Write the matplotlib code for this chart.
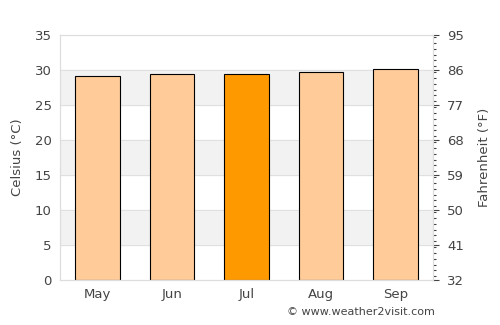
import numpy as np
import matplotlib.pyplot as plt
from matplotlib.ticker import MultipleLocator

months = ['May', 'Jun', 'Jul', 'Aug', 'Sep']
temps_c = [29.2, 29.5, 29.5, 29.8, 30.2]
highlight = 'Jul'

bar_colors = ['#ff9900' if m == highlight else '#ffcc99' for m in months]

fig = plt.figure(figsize=(5, 3.25), dpi=100)
ax = fig.add_axes([0.12, 0.138, 0.746, 0.754])

# alternating bands
for lo in range(5, 35, 10):
    ax.axhspan(lo, lo + 5, color='#f2f2f2', zorder=0)
for y in range(5, 35, 5):
    ax.axhline(y, color='#e0e0e0', lw=0.8, zorder=0.5)

x = np.arange(len(months))
ax.bar(x, temps_c, width=0.6, color=bar_colors, edgecolor='black', linewidth=0.8, zorder=2)

ax.set_xlim(-0.5, 4.5)
ax.set_ylim(0, 35)
ax.set_xticks(x)
ax.set_xticklabels(months)
ax.set_yticks(range(0, 36, 5))
ax.set_ylabel('Celsius (°C)', color='#444444', fontsize=9.5, labelpad=8)
ax.tick_params(axis='both', colors='#444444', labelsize=9.5, length=0, pad=6)
for s in ax.spines.values():
    s.set_color('#dddddd')

ax2 = ax.twinx()
ax2.set_ylim(32, 95)
ax2.set_yticks(range(32, 96, 9))
ax2.yaxis.set_minor_locator(MultipleLocator(1.5))
ax2.tick_params(axis='y', which='major', colors='#444444', labelsize=9.5, length=4, width=0.8, pad=6)
ax2.tick_params(axis='y', which='minor', length=2.5, width=0.8, colors='#444444')
ax2.set_ylabel('Fahrenheit (°F)', color='#444444', fontsize=9.5, labelpad=10)
for s in ax2.spines.values():
    s.set_color('#dddddd')

fig.text(0.87, 0.025, '© www.weather2visit.com', ha='right', va='bottom', fontsize=8, color='#444444')

fig.savefig('out.png', dpi=100)
